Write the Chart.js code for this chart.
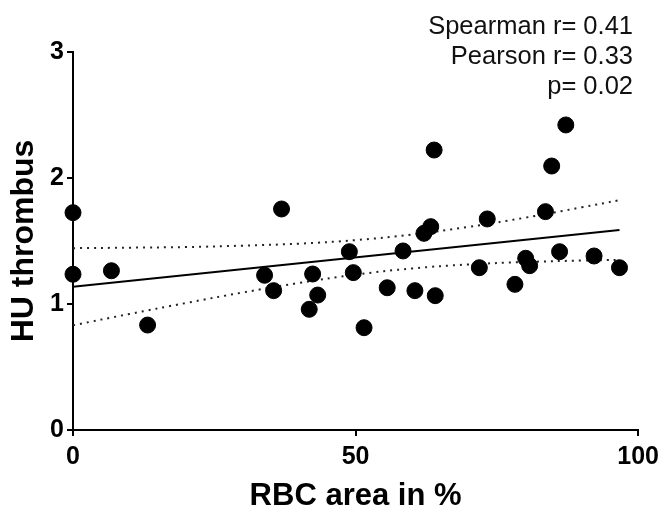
<!DOCTYPE html>
<html>
<head>
<meta charset="utf-8">
<script src="https://cdn.jsdelivr.net/npm/chart.js@4/dist/chart.umd.min.js"></script>
<style>
  html, body { margin: 0; padding: 0; background: #fff; }
  #wrap { width: 665px; height: 510px; }
</style>
</head>
<body>
<div id="wrap"><canvas id="chart"></canvas></div>
<script>
// RBC area (%) vs HU thrombus
const rbcArea = [0, 0, 6.8, 13.2, 33.9, 35.5, 36.9, 41.8, 42.4, 43.3, 48.9, 49.6, 51.5, 55.6, 58.4, 60.5,
  62.1, 63.3, 63.9, 64.1, 71.9, 73.3, 78.2, 80.1, 80.8, 83.6, 84.7, 86.1, 87.2, 92.2, 96.7];
const huThrombus = [1.725, 1.236, 1.264, 0.833, 1.228, 1.106, 1.754, 0.958, 1.238, 1.071, 1.415, 1.249, 0.812, 1.129, 1.421, 1.106,
  1.561, 1.614, 2.222, 1.066, 1.288, 1.675, 1.156, 1.363, 1.304, 1.733, 2.095, 1.415, 2.421, 1.381, 1.288];

// fit line and 95% band, read at these x positions
const fitX = [0, 96.7];
const fitY = [1.137, 1.587];
const bandX = [0, 10, 20, 30, 40, 50, 60, 70, 80, 90, 96.7];
const bandUpper = [1.443, 1.447, 1.452, 1.463, 1.479, 1.507, 1.551, 1.612, 1.685, 1.767, 1.824];
const bandLower = [0.831, 0.921, 1.008, 1.091, 1.167, 1.233, 1.282, 1.314, 1.333, 1.345, 1.350];

const statLines = ['Spearman r= 0.41', 'Pearson r= 0.33', 'p= 0.02'];

const toXY = (xs, ys) => xs.map((x, i) => ({ x: x, y: ys[i] }));

const fontFam = '"Liberation Sans", Arial, sans-serif';

// draws the stats text in the upper right corner
const statsText = {
  id: 'statsText',
  afterDraw(chart) {
    const ctx = chart.ctx;
    ctx.save();
    ctx.font = '25.5px ' + fontFam;
    ctx.fillStyle = '#111';
    ctx.textAlign = 'right';
    ctx.textBaseline = 'alphabetic';
    statLines.forEach((t, i) => {
      ctx.fillText(t, 633, 34 + i * 30);
    });
    ctx.restore();
  }
};

const bandStyle = {
  type: 'line',
  borderColor: '#222',
  borderWidth: 2,
  borderDash: [2, 5],
  pointRadius: 0,
  fill: false,
  tension: 0.4,
  clip: false
};

new Chart(document.getElementById('chart'), {
  type: 'scatter',
  data: {
    datasets: [
      {
        label: 'data',
        data: toXY(rbcArea, huThrombus),
        backgroundColor: '#000',
        borderColor: '#000',
        pointRadius: 8,
        pointHoverRadius: 8,
        clip: false
      },
      {
        label: 'fit',
        type: 'line',
        data: toXY(fitX, fitY),
        borderColor: '#000',
        borderWidth: 2,
        pointRadius: 0,
        fill: false,
        clip: false
      },
      Object.assign({ label: 'upper', data: toXY(bandX, bandUpper) }, bandStyle),
      Object.assign({ label: 'lower', data: toXY(bandX, bandLower) }, bandStyle)
    ]
  },
  options: {
    responsive: true,
    maintainAspectRatio: false,
    animation: false,
    layout: { padding: { top: 52, right: 23, bottom: 0, left: 0 } },
    plugins: {
      legend: { display: false },
      tooltip: { enabled: false }
    },
    scales: {
      x: {
        type: 'linear',
        min: 0,
        max: 100,
        ticks: {
          stepSize: 50,
          color: '#000',
          padding: 6,
          font: { family: fontFam, size: 25, weight: 'bold' }
        },
        grid: { drawOnChartArea: false, drawTicks: true, tickLength: 6, color: '#000', lineWidth: 2 },
        border: { display: true, color: '#000', width: 2 },
        title: {
          display: true,
          text: 'RBC area in %',
          color: '#000',
          padding: { top: 0, bottom: 0 },
          font: { family: fontFam, size: 31, weight: 'bold', lineHeight: 0.85 }
        },
        afterFit: (scale) => { scale.height = 80; }
      },
      y: {
        type: 'linear',
        min: 0,
        max: 3,
        ticks: {
          stepSize: 1,
          color: '#000',
          padding: 3,
          font: { family: fontFam, size: 25, weight: 'bold' }
        },
        grid: { drawOnChartArea: false, drawTicks: true, tickLength: 6, color: '#000', lineWidth: 2 },
        border: { display: true, color: '#000', width: 2 },
        title: {
          display: true,
          text: 'HU thrombus',
          color: '#000',
          padding: { top: 5, bottom: 0 },
          font: { family: fontFam, size: 32, weight: 'bold', lineHeight: 1.2 }
        },
        afterFit: (scale) => { scale.width = 73; }
      }
    }
  },
  plugins: [statsText]
});
</script>
</body>
</html>
